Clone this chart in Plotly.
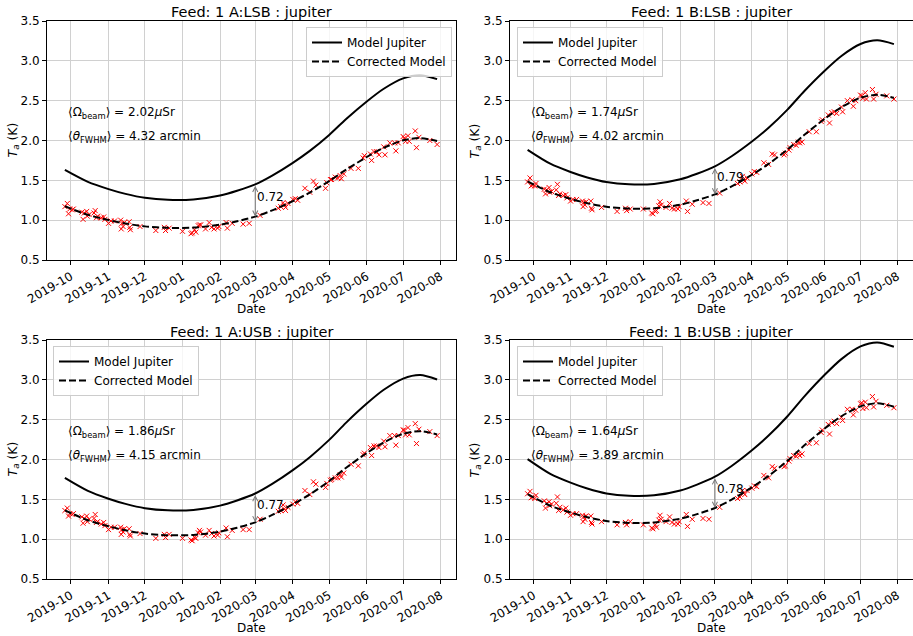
import plotly.graph_objects as go

# ---------------- data ----------------
PANEL_TITLES = ["Feed: 1 A:LSB : jupiter", "Feed: 1 B:LSB : jupiter",
                "Feed: 1 A:USB : jupiter", "Feed: 1 B:USB : jupiter"]
RATIO_LABELS = ["0.72", "0.79", "0.77", "0.78"]
OMEGA_BEAM = ["2.02", "1.74", "1.86", "1.64"]
THETA_FWHM = ["4.32", "4.02", "4.15", "3.89"]
ARROW_DATE = "2020-03-01"

MODEL_DATES = ["2019-09-26", "2019-10-15", "2019-11-01", "2019-11-15", "2019-12-01",
               "2019-12-20", "2020-01-10", "2020-02-01", "2020-02-15", "2020-03-01",
               "2020-03-15", "2020-04-01", "2020-04-15", "2020-05-01", "2020-05-15",
               "2020-06-01", "2020-06-15", "2020-07-01", "2020-07-15", "2020-07-29"]

MODEL_A_LSB = [1.63, 1.48, 1.39, 1.33, 1.28, 1.255, 1.26, 1.31, 1.37, 1.45,
               1.56, 1.72, 1.87, 2.07, 2.27, 2.49, 2.65, 2.78, 2.82, 2.77]
CORR_A_LSB = [1.174, 1.066, 1.001, 0.958, 0.922, 0.904, 0.907, 0.943, 0.986, 1.044,
              1.123, 1.238, 1.346, 1.490, 1.634, 1.793, 1.908, 2.002, 2.030, 1.994]
MODEL_B_LSB = [1.883, 1.709, 1.605, 1.536, 1.478, 1.450, 1.455, 1.513, 1.582, 1.675,
               1.802, 1.987, 2.160, 2.391, 2.622, 2.876, 3.061, 3.211, 3.257, 3.210]
CORR_B_LSB = [1.488, 1.350, 1.268, 1.213, 1.168, 1.146, 1.149, 1.195, 1.250, 1.323,
              1.424, 1.570, 1.706, 1.889, 2.071, 2.272, 2.418, 2.537, 2.573, 2.536]
MODEL_A_USB = [1.769, 1.606, 1.508, 1.443, 1.389, 1.362, 1.367, 1.421, 1.486, 1.573,
               1.693, 1.866, 2.029, 2.246, 2.463, 2.702, 2.875, 3.016, 3.060, 3.005]
CORR_A_USB = [1.362, 1.237, 1.161, 1.111, 1.070, 1.049, 1.053, 1.094, 1.144, 1.211,
              1.304, 1.437, 1.562, 1.729, 1.897, 2.081, 2.214, 2.323, 2.356, 2.314]
MODEL_B_USB = [2.005, 1.820, 1.710, 1.636, 1.574, 1.544, 1.550, 1.611, 1.685, 1.784,
               1.919, 2.116, 2.300, 2.546, 2.792, 3.063, 3.260, 3.419, 3.469, 3.415]
CORR_B_USB = [1.564, 1.420, 1.334, 1.276, 1.228, 1.204, 1.209, 1.257, 1.314, 1.391,
              1.497, 1.650, 1.794, 1.986, 2.178, 2.389, 2.543, 2.667, 2.706, 2.663]

OBS_DATES = [
    "2019-09-26", "2019-09-28", "2019-09-29", "2019-09-30", "2019-10-02", "2019-10-03",
    "2019-10-10", "2019-10-11", "2019-10-12", "2019-10-14", "2019-10-14 12:00", "2019-10-16",
    "2019-10-20", "2019-10-21", "2019-10-22", "2019-10-23", "2019-10-26", "2019-10-28",
    "2019-10-29", "2019-11-01", "2019-11-03", "2019-11-06", "2019-11-11", "2019-11-11 12:00",
    "2019-11-12", "2019-11-13", "2019-11-14", "2019-11-18", "2019-11-18 12:00", "2019-11-19",
    "2019-11-27", "2019-12-10", "2019-12-17", "2019-12-18", "2019-12-21", "2020-01-01",
    "2020-01-08", "2020-01-09", "2020-01-11", "2020-01-12", "2020-01-14", "2020-01-15",
    "2020-01-16", "2020-01-20", "2020-01-23", "2020-01-25", "2020-01-27", "2020-01-30",
    "2020-01-31", "2020-02-06", "2020-02-07", "2020-02-11", "2020-02-20", "2020-02-25",
    "2020-03-05", "2020-03-20", "2020-03-22", "2020-03-24", "2020-03-25", "2020-03-26",
    "2020-03-28", "2020-04-01", "2020-04-03", "2020-04-05", "2020-04-11", "2020-04-15",
    "2020-04-18", "2020-04-20", "2020-04-28", "2020-04-29", "2020-05-02", "2020-05-03",
    "2020-05-06", "2020-05-08", "2020-05-10", "2020-05-11", "2020-05-13", "2020-05-19",
    "2020-05-25", "2020-05-29", "2020-05-30", "2020-06-04", "2020-06-05", "2020-06-07",
    "2020-06-09", "2020-06-11", "2020-06-15", "2020-06-16", "2020-06-20", "2020-06-24",
    "2020-06-25", "2020-06-27", "2020-07-01", "2020-07-02", "2020-07-03", "2020-07-05",
    "2020-07-06", "2020-07-11", "2020-07-12", "2020-07-14", "2020-07-23", "2020-07-29"]

OBS_A_LSB = [
    1.17, 1.21, 1.08, 1.14, 1.13, 1.14, 1.10, 1.01, 1.09, 1.11, 1.05, 1.07,
    1.09, 1.12, 1.03, 1.05, 1.03, 1.04, 1.01, 0.96, 0.99, 0.99, 1.00, 0.89,
    0.96, 0.92, 0.97, 0.98, 0.91, 0.88, 0.92, 0.87, 0.91, 0.87, 0.90, 0.86,
    0.83, 0.84, 0.88, 0.85, 0.93, 0.94, 0.94, 0.89, 0.97, 0.91, 0.89, 0.90,
    0.92, 0.97, 0.90, 0.96, 0.95, 0.96, 1.06, 1.15, 1.17, 1.22, 1.19, 1.16,
    1.21, 1.26, 1.27, 1.25, 1.40, 1.35, 1.49, 1.44, 1.40, 1.47, 1.51, 1.51,
    1.54, 1.53, 1.56, 1.52, 1.58, 1.65, 1.65, 1.78, 1.81, 1.83, 1.75, 1.86,
    1.86, 1.82, 1.92, 1.82, 1.97, 1.97, 1.87, 1.97, 2.05, 2.03, 1.99, 2.06,
    1.99, 2.12, 1.91, 2.04, 2.00, 1.95]
OBS_B_LSB = [
    1.48, 1.53, 1.43, 1.44, 1.43, 1.46, 1.39, 1.33, 1.38, 1.41, 1.35, 1.36,
    1.38, 1.45, 1.31, 1.33, 1.31, 1.32, 1.28, 1.24, 1.26, 1.26, 1.24, 1.17,
    1.22, 1.19, 1.23, 1.24, 1.15, 1.13, 1.16, 1.11, 1.15, 1.12, 1.14, 1.14,
    1.09, 1.08, 1.11, 1.12, 1.18, 1.23, 1.19, 1.16, 1.21, 1.15, 1.14, 1.14,
    1.17, 1.24, 1.11, 1.20, 1.22, 1.21, 1.34, 1.46, 1.48, 1.55, 1.51, 1.49,
    1.53, 1.58, 1.61, 1.60, 1.72, 1.70, 1.83, 1.82, 1.82, 1.84, 1.88, 1.91,
    1.95, 1.94, 1.98, 1.97, 1.98, 2.11, 2.11, 2.24, 2.26, 2.32, 2.22, 2.35,
    2.36, 2.34, 2.42, 2.36, 2.50, 2.51, 2.43, 2.50, 2.57, 2.56, 2.53, 2.60,
    2.52, 2.64, 2.52, 2.58, 2.56, 2.52]
OBS_A_USB = [
    1.36, 1.39, 1.29, 1.32, 1.31, 1.32, 1.28, 1.20, 1.26, 1.29, 1.22, 1.25,
    1.26, 1.31, 1.21, 1.22, 1.19, 1.21, 1.17, 1.12, 1.15, 1.15, 1.15, 1.06,
    1.12, 1.09, 1.13, 1.13, 1.06, 1.04, 1.07, 1.01, 1.06, 1.02, 1.06, 1.01,
    0.99, 0.98, 1.02, 1.01, 1.08, 1.11, 1.09, 1.05, 1.11, 1.07, 1.04, 1.05,
    1.08, 1.14, 1.03, 1.11, 1.12, 1.12, 1.25, 1.35, 1.36, 1.43, 1.38, 1.36,
    1.40, 1.44, 1.47, 1.45, 1.61, 1.56, 1.72, 1.69, 1.65, 1.70, 1.74, 1.75,
    1.77, 1.77, 1.81, 1.78, 1.83, 1.94, 1.92, 2.06, 2.08, 2.15, 2.05, 2.17,
    2.17, 2.15, 2.23, 2.16, 2.30, 2.30, 2.18, 2.30, 2.37, 2.37, 2.31, 2.40,
    2.31, 2.45, 2.20, 2.38, 2.35, 2.30]
OBS_B_USB = [
    1.57, 1.60, 1.52, 1.53, 1.51, 1.55, 1.48, 1.39, 1.45, 1.47, 1.42, 1.44,
    1.45, 1.53, 1.36, 1.40, 1.37, 1.39, 1.34, 1.30, 1.32, 1.32, 1.30, 1.22,
    1.28, 1.25, 1.29, 1.29, 1.21, 1.19, 1.22, 1.18, 1.21, 1.18, 1.22, 1.18,
    1.14, 1.13, 1.18, 1.15, 1.24, 1.30, 1.25, 1.22, 1.28, 1.21, 1.19, 1.19,
    1.22, 1.31, 1.16, 1.25, 1.26, 1.25, 1.40, 1.51, 1.53, 1.61, 1.58, 1.56,
    1.61, 1.64, 1.67, 1.66, 1.80, 1.77, 1.91, 1.89, 1.91, 1.92, 1.98, 2.01,
    2.05, 2.04, 2.07, 2.05, 2.07, 2.20, 2.21, 2.34, 2.37, 2.44, 2.32, 2.46,
    2.48, 2.45, 2.53, 2.49, 2.63, 2.63, 2.56, 2.62, 2.70, 2.71, 2.64, 2.72,
    2.65, 2.79, 2.66, 2.73, 2.68, 2.65]

MODELS = [MODEL_A_LSB, MODEL_B_LSB, MODEL_A_USB, MODEL_B_USB]
CORRECTED = [CORR_A_LSB, CORR_B_LSB, CORR_A_USB, CORR_B_USB]
OBSERVED = [OBS_A_LSB, OBS_B_LSB, OBS_A_USB, OBS_B_USB]

Y_TICKS = [0.5, 1.0, 1.5, 2.0, 2.5, 3.0, 3.5]
X_RANGE = ["2019-09-11 06:00", "2020-08-13 14:00"]

# ---------------- layout geometry ----------------
W, H = 913, 636
FONT = "DejaVu Sans"
X_DOMAINS = [[47 / W, 456 / W], [510 / W, 912.5 / W]]
Y_DOMAINS = [[1 - 260 / H, 1 - 21 / H], [1 - 579 / H, 1 - 340 / H]]
LEGEND_POS = [(306 / W, 1 - 27 / H), (517 / W, 1 - 27 / H), (53 / W, 1 - 346 / H), (517 / W, 1 - 346 / H)]
TITLE_Y = [1 - 12.5 / H, 1 - 332 / H]
DATE_Y = [1 - 309 / H, 1 - 628 / H]
YLAB_X = [13 / W, 475 / W]

fig = go.Figure()
annotations = []
layout = dict(width=W, height=H, margin=dict(l=0, r=0, t=0, b=0, autoexpand=False),
              paper_bgcolor="white", plot_bgcolor="white",
              font=dict(family=FONT, size=12, color="black"))

arrow_idx = MODEL_DATES.index(ARROW_DATE)

for i in range(4):
    row, col = divmod(i, 2)
    sfx = "" if i == 0 else str(i + 1)
    xa, ya = "x" + sfx, "y" + sfx
    leg = "legend" if i == 0 else "legend" + str(i + 1)

    fig.add_trace(go.Scatter(x=OBS_DATES, y=OBSERVED[i], mode="markers", xaxis=xa, yaxis=ya,
                             marker=dict(symbol="x-thin", size=5, color="red",
                                         line=dict(color="red", width=1)),
                             showlegend=False, legend=leg))
    fig.add_trace(go.Scatter(x=MODEL_DATES, y=MODELS[i], mode="lines", xaxis=xa, yaxis=ya,
                             name="Model Jupiter",
                             line=dict(color="black", width=2, shape="spline", smoothing=0.8),
                             legend=leg))
    fig.add_trace(go.Scatter(x=MODEL_DATES, y=CORRECTED[i], mode="lines", xaxis=xa, yaxis=ya,
                             name="Corrected Model",
                             line=dict(color="black", width=2, dash="7px,3px",
                                       shape="spline", smoothing=0.8),
                             legend=leg))

    axis_common = dict(showline=True, linecolor="black", linewidth=1, mirror=True,
                       ticks="outside", ticklen=4, tickcolor="black", automargin=False,
                       showgrid=True, gridcolor="#d0d0d0", gridwidth=1,
                       tickfont=dict(family=FONT, size=12, color="black"), zeroline=False)
    layout["xaxis" + sfx] = dict(axis_common, domain=X_DOMAINS[col], anchor=ya, type="date",
                                 range=X_RANGE, dtick="M1", tick0="2019-10-01",
                                 tickformat="%Y-%m", tickangle=-30)
    layout["yaxis" + sfx] = dict(axis_common, domain=Y_DOMAINS[row], anchor=xa,
                                 range=[0.5, 3.5], tickvals=Y_TICKS, tickformat=".1f")
    lx, ly = LEGEND_POS[i]
    layout[leg] = dict(x=lx, y=ly, xanchor="left", yanchor="top",
                       bgcolor="rgba(255,255,255,0.8)", bordercolor="#cccccc", borderwidth=1,
                       font=dict(family=FONT, size=12), itemwidth=30, tracegroupgap=0)

    xc = (X_DOMAINS[col][0] + X_DOMAINS[col][1]) / 2
    annotations.append(dict(text=PANEL_TITLES[i], x=xc, y=TITLE_Y[row], xref="paper", yref="paper",
                            xanchor="center", yanchor="middle", showarrow=False,
                            font=dict(family=FONT, size=14.5)))
    annotations.append(dict(text="Date", x=xc, y=DATE_Y[row], xref="paper", yref="paper",
                            xanchor="center", yanchor="middle", showarrow=False,
                            font=dict(family=FONT, size=12)))
    yc = (Y_DOMAINS[row][0] + Y_DOMAINS[row][1]) / 2
    annotations.append(dict(text="<i>T<sub>a</sub></i> (K)", x=YLAB_X[col], y=yc, xref="paper",
                            yref="paper", xanchor="center", yanchor="middle", textangle=-90,
                            showarrow=False, font=dict(family=FONT, size=12.5)))
    annotations.append(dict(text="⟨Ω<sub>beam</sub>⟩ = " + OMEGA_BEAM[i] + "<i>μ</i>Sr",
                            x=0.046, y=0.615, xref=xa + " domain", yref=ya + " domain",
                            xanchor="left", yanchor="middle", showarrow=False,
                            font=dict(family=FONT, size=12)))
    annotations.append(dict(text="⟨<i>θ</i><sub>FWHM</sub>⟩ = " + THETA_FWHM[i] + " arcmin",
                            x=0.046, y=0.515, xref=xa + " domain", yref=ya + " domain",
                            xanchor="left", yanchor="middle", showarrow=False,
                            font=dict(family=FONT, size=12)))
    top = MODELS[i][arrow_idx]
    bot = CORRECTED[i][arrow_idx]
    annotations.append(dict(text="", x=ARROW_DATE, y=bot, ax=ARROW_DATE, ay=top,
                            xref=xa, yref=ya, axref=xa, ayref=ya, showarrow=True,
                            arrowhead=5, startarrowhead=5, arrowside="end+start",
                            arrowsize=1.0, startarrowsize=1.0,
                            arrowwidth=1, arrowcolor="#777777"))
    annotations.append(dict(text=RATIO_LABELS[i], x=ARROW_DATE, y=(top + bot) / 2,
                            xref=xa, yref=ya, xanchor="left", yanchor="middle",
                            xshift=0, yshift=3, showarrow=False,
                            font=dict(family=FONT, size=12)))

layout["annotations"] = annotations
fig.update_layout(**layout)
fig.write_html("out.html")
